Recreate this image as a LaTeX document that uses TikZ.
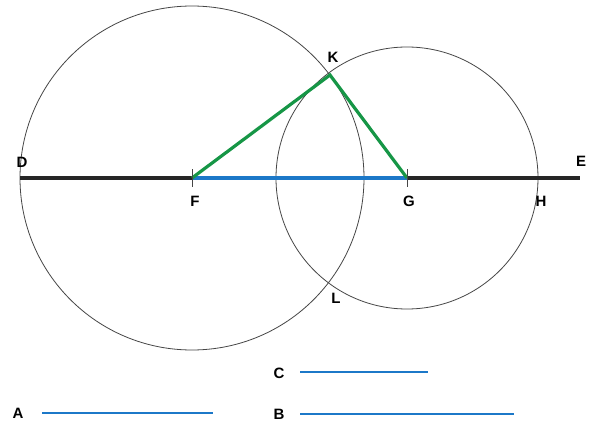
\documentclass[tikz,border=0pt]{standalone}
\usepackage{fontspec}
\setmainfont{Liberation Sans}
\definecolor{segblue}{RGB}{28,120,200}
\definecolor{seggreen}{RGB}{22,150,70}
\definecolor{circ}{RGB}{70,70,70}
\begin{document}
\begin{tikzpicture}[x=1pt,y=-1pt,
  lbl/.style={font=\bfseries\fontsize{15}{17}\selectfont,inner sep=0pt},
  thick line/.style={line width=3.2pt},
  circ line/.style={draw=circ,line width=0.8pt},
  tick/.style={draw=circ,line width=0.8pt}]
\useasboundingbox[fill=white] (0,0) rectangle (595,425);
\coordinate (D) at (20,178);
\coordinate (E) at (580,178);
\coordinate (F) at (192,178);
\coordinate (G) at (407,178);
\coordinate (H) at (538,178);
\coordinate (K) at (330,75);
\coordinate (L) at (330,282);
% circles
\draw[circ line] (F) circle (172);
\draw[circ line] (G) circle (131);
% main line
\draw[thick line,black!85] (D) -- (E);
\draw[thick line,segblue] (F) -- (G);
\draw[thick line,seggreen,line join=miter] (F) -- (K) -- (G);
% ticks
\draw[tick] ([yshift=-9]F) -- ([yshift=9]F);
\draw[tick] ([yshift=-9]G) -- ([yshift=9]G);
% labels
\node[lbl] (lD) at (22,162) {D};
\node[lbl] (lE) at (581,161) {E};
\node[lbl] (lF) at (195,201) {F};
\node[lbl] (lG) at (409,201) {G};
\node[lbl] (lH) at (541,201) {H};
\node[lbl] (lK) at (333,57) {K};
\node[lbl] (lL) at (336,298) {L};
% given segments
\coordinate (A1) at (42,413);
\coordinate (A2) at (213,413);
\coordinate (B1) at (300,414);
\coordinate (B2) at (514,414);
\coordinate (C1) at (300,372);
\coordinate (C2) at (428,372);
\draw[line width=2.6pt,segblue] (A1) -- (A2);
\draw[line width=2.6pt,segblue] (B1) -- (B2);
\draw[line width=2.6pt,segblue] (C1) -- (C2);
\node[lbl] (lA) at (18,413) {A};
\node[lbl] (lB) at (279,414) {B};
\node[lbl] (lC) at (279,373) {C};
\end{tikzpicture}
\end{document}
